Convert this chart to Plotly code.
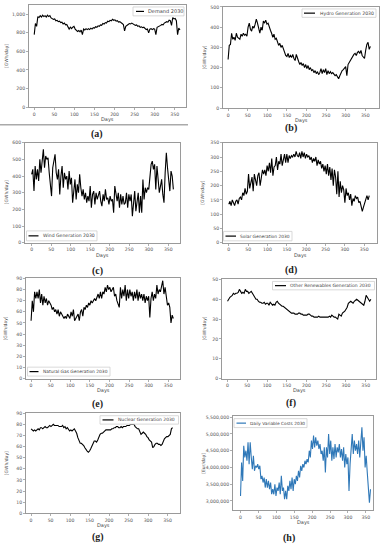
import plotly.graph_objects as go

DAYS = list(range(0, 365, 3))

DEMAND = [780, 900, 870, 975, 965, 985, 970, 990, 975, 985,
          970, 990, 975, 985, 960, 955, 945, 950, 930, 935,
          920, 925, 910, 915, 895, 905, 885, 890, 860, 840,
          860, 845, 860, 870, 840, 830, 815, 825, 810, 830,
          780, 840, 830, 845, 835, 845, 835, 850, 840, 855,
          850, 865, 860, 875, 870, 885, 880, 900, 895, 910,
          905, 925, 920, 935, 930, 945, 935, 940, 925, 930,
          915, 920, 905, 900, 890, 820, 870, 885, 890, 900,
          895, 905, 895, 890, 880, 885, 870, 875, 860, 865,
          855, 860, 845, 835, 840, 800, 840, 845, 835, 845,
          840, 780, 860, 865, 875, 880, 890, 885, 905, 910,
          920, 915, 935, 930, 880, 965, 950, 955, 930, 780,
          850, 830]

HYDRO = [240, 310, 315, 370, 340, 350, 335, 370, 350, 345,
         340, 365, 355, 370, 360, 365, 355, 400, 420, 390,
         380, 405, 395, 415, 440, 420, 395, 370, 400, 385,
         430, 420, 435, 415, 420, 395, 385, 370, 350, 365,
         340, 345, 330, 310, 320, 300, 310, 290, 275, 260,
         255, 270, 250, 260, 250, 265, 245, 235, 265, 240,
         230, 215, 225, 210, 220, 200, 215, 195, 210, 190,
         200, 185, 190, 175, 185, 170, 180, 165, 175, 195,
         170, 190, 175, 195, 165, 185, 170, 180, 170, 175,
         165, 160, 165, 150, 145, 160, 175, 185, 190, 200,
         205, 160, 215, 225, 235, 250, 255, 265, 270, 260,
         275, 280, 270, 285, 260, 250, 245, 285, 315, 325,
         290, 305]

WIND = [410, 440, 310, 460, 380, 440, 370, 500, 420, 510,
        560, 450, 520, 500, 510, 420, 360, 280, 450, 500,
        530, 420, 380, 440, 290, 400, 460, 330, 420, 380,
        400, 320, 430, 350, 390, 240, 310, 380, 260, 350,
        300, 410, 330, 280, 320, 260, 300, 240, 280, 250,
        340, 210, 290, 310, 230, 300, 260, 280, 310, 250,
        220, 290, 250, 320, 260, 270, 230, 280, 250, 260,
        180, 340, 280, 250, 300, 210, 290, 230, 280, 230,
        240, 300, 210, 290, 250, 290, 160, 270, 310, 190,
        250, 300, 180, 280, 180, 380, 260, 330, 300, 330,
        320, 410, 470, 490, 440, 470, 320, 460, 350, 300,
        340, 380, 290, 240, 420, 540, 450, 360, 310, 430,
        400, 320]

SOLAR = [135, 145, 130, 150, 140, 130, 145, 150, 135, 155,
         160, 150, 175, 165, 190, 170, 180, 240, 190, 210,
         230, 180, 240, 220, 200, 235, 245, 200, 225, 255,
         240, 255, 235, 270, 250, 280, 245, 295, 235, 265,
         270, 300, 255, 285, 275, 310, 270, 295, 310, 280,
         310, 280, 305, 295, 305, 300, 310, 300, 320, 305,
         300, 315, 295, 320, 300, 315, 295, 310, 300, 305,
         290, 300, 280, 295, 285, 300, 270, 290, 275, 285,
         260, 275, 250, 270, 240, 275, 235, 265, 220, 260,
         200, 255, 230, 170, 250, 160, 215, 175, 200, 185,
         140, 190, 165, 175, 150, 170, 130, 155, 145, 165,
         155, 160, 140, 145, 125, 110, 125, 140, 150, 165,
         150, 165]

GAS = [52, 70, 60, 78, 72, 78, 72, 80, 68, 76,
       66, 74, 68, 72, 66, 70, 68, 66, 62, 64,
       60, 62, 58, 62, 56, 60, 58, 56, 54, 56,
       54, 58, 56, 54, 60, 56, 62, 52, 54, 56,
       58, 52, 60, 62, 56, 64, 62, 66, 64, 68,
       66, 70, 68, 70, 72, 70, 74, 76, 72, 78,
       72, 78, 76, 82, 78, 84, 80, 82, 78, 80,
       82, 74, 76, 70, 66, 64, 82, 72, 80, 74,
       84, 70, 80, 72, 80, 74, 78, 70, 78, 72,
       80, 70, 78, 72, 76, 70, 76, 68, 74, 70,
       74, 55, 72, 78, 70, 76, 72, 84, 76, 80,
       78, 82, 88, 76, 82, 74, 66, 68, 64, 50,
       57, 54]

OTHER = [39, 40.5, 41, 41.5, 42, 43, 42.5, 43, 43, 43.5,
         45, 44, 43, 43.5, 43, 45, 44, 44, 43, 43.5,
         44, 43, 41.5, 41, 40, 40, 39, 38.5, 38.5, 38,
         38, 38.5, 37.5, 38, 38, 37, 38.5, 37.5, 37, 37.5,
         37, 38.5, 39, 38, 37.5, 37, 36.5, 36.5, 36, 35.5,
         35, 34.5, 34, 33.5, 33, 33, 33, 32.5, 32.5, 32.5,
         33, 33, 32.5, 32.5, 32, 32, 32, 32, 32.5, 32.5,
         32, 31.5, 31.5, 31, 31, 31, 31, 31.5, 31, 31,
         31, 31, 31, 31, 31, 31, 31.5, 31, 32, 31.5,
         31, 31, 30.5, 30, 32.5, 32, 31.5, 33, 33.5, 34,
         35, 36, 38, 38.5, 39, 38.5, 38, 39, 39.5, 40,
         39.5, 39, 38.5, 38, 37.5, 37, 39, 42, 41, 40,
         39, 40]

NUCLEAR = [76, 75, 74, 75, 74, 75, 76, 75, 77, 77,
           76, 77, 78, 77, 77, 78, 79, 78, 79, 80,
           79, 79, 79, 79, 78, 78, 78, 79, 77, 78,
           76, 77, 75, 74, 75, 74, 75, 76, 74, 72,
           68, 66, 63, 63, 62, 61, 59, 57, 56, 55,
           56, 58, 61, 64, 65, 65, 64, 66, 69, 71,
           72, 72, 73, 74, 75, 75, 75, 75, 75, 76,
           76, 77, 77, 78, 78, 77, 77, 78, 77, 78,
           78, 78, 79, 79, 79, 80, 80, 80, 80, 78,
           77, 76, 76, 73, 71, 72, 73, 72, 71, 69,
           68, 66, 65, 64, 59, 60, 62, 63, 63, 62,
           62, 61, 62, 65, 67, 68, 69, 69, 70, 71,
           76, 77]

COSTS_M = [3.15, 4.15, 3.6, 4.65, 4.3, 4.5, 4.2, 4.75, 4.1, 4.75,
           4.3, 3.95, 4.35, 3.9, 4.05, 4.0, 4.1, 3.95, 4.05, 3.65,
           3.75, 3.55, 3.7, 3.4, 3.65, 3.4, 3.6, 3.35, 3.55, 3.2,
           3.35, 3.2, 3.5, 3.15, 3.4, 3.3, 3.55, 3.2, 3.75, 3.3,
           3.4, 3.05, 3.3, 3.05, 3.45, 3.3, 3.6, 3.35, 3.7, 3.3,
           3.65, 3.5, 3.75, 3.6, 3.9, 3.7, 4.05, 3.9, 4.1, 4.0,
           4.2, 4.1, 4.25, 4.15, 4.5, 4.3, 4.8, 4.55, 4.95, 4.6,
           4.9, 4.65, 4.8, 4.55, 4.7, 4.4, 4.5, 4.2, 4.6, 3.85,
           4.6, 4.3, 5.0, 4.4, 4.8, 4.2, 4.6, 4.25, 4.7, 4.3,
           4.6, 4.45, 4.7, 4.3, 4.55, 4.2, 4.6, 4.0, 4.4, 4.1,
           4.3, 3.3, 4.1, 4.6, 5.0, 4.4, 4.8, 4.5, 4.7, 4.4,
           4.8, 4.3, 4.9, 5.2, 4.5, 4.9, 4.0, 4.35, 3.85, 3.3,
           2.95, 3.35]
COSTS = [v * 1e6 for v in COSTS_M]

X_TICKS = [0, 50, 100, 150, 200, 250, 300, 350]

SERIES = [
    ("Demand 2030", DEMAND, "[GWh/day]", [0, 200, 400, 600, 800, 1000], "(a)"),
    ("Hydro Generation 2030", HYDRO, "[GWh/day]", [0, 100, 200, 300, 400, 500], "(b)"),
    ("Wind Generation 2030", WIND, "[GWh/day]", [0, 100, 200, 300, 400, 500, 600], "(c)"),
    ("Solar Generation 2030", SOLAR, "[GWh/day]", [0, 50, 100, 150, 200, 250, 300, 350], "(d)"),
    ("Natural Gas Generation 2030", GAS, "[GWh/day]", [0, 10, 20, 30, 40, 50, 60, 70, 80, 90], "(e)"),
    ("Other Renewables Generation 2030", OTHER, "[GWh/day]", [0, 10, 20, 30, 40, 50], "(f)"),
    ("Nuclear Generation 2030", NUCLEAR, "[GWh/day]", [0, 10, 20, 30, 40, 50, 60, 70, 80, 90], "(g)"),
    ("Daily Variable Costs 2030", COSTS, "[Eur/day]",
     [3000000, 3500000, 4000000, 4500000, 5000000, 5500000], "(h)"),
]

# ---------------- layout (pixel geometry) ----------------
W, H = 383, 550
# frame: left, right, top, bottom (px); x range; y range
FRAMES = [
    (29, 186, 3, 106, [-13, 378], [0, 1100]),
    (223, 379, 5, 107, [-13, 385], [0, 500]),
    (25, 180, 142, 243, [-17, 380], [0, 600]),
    (223, 377, 142, 243, [-15, 383], [0, 350]),
    (26, 180, 279, 380, [-13, 380], [0, 90]),
    (222, 376, 280, 380, [-14, 376], [0, 50]),
    (26, 180, 415, 516, [-13, 382], [0, 90]),
    (233, 373, 418, 513, [-21, 370], [2720000, 5530000]),
]
# legend: box x0, x1, y0, y1, line x0, x1, text x, font size
LEGENDS = [
    (133, 184, 5, 14, 136, 144, 146, 5.0),
    (302, 376, 7, 15.5, 304, 315, 317.5, 4.6),
    (26.5, 97, 231, 241, 28.5, 38.5, 40.5, 4.6),
    (223.5, 292, 231.5, 241, 225.5, 236, 238.3, 4.4),
    (27.5, 110, 368.5, 377.5, 29.5, 38.5, 40.7, 4.4),
    (272.5, 374.5, 282, 290.5, 275, 286, 287.7, 4.5),
    (100, 178.5, 417.5, 426, 102.5, 113.5, 115.7, 4.5),
    (234, 307, 420.5, 429.5, 236.5, 246, 248.3, 4.3),
]
LABEL_POS = [(97, 133), (291, 127), (97, 271), (291, 270),
             (97, 406), (291, 405), (98, 540), (289, 541)]
YTITLE_X = [6, 204, 6.5, 203, 6, 203.5, 6, 203.5]


def px(x):
    return x / W


def py(y):
    return 1 - y / H


FONT = "DejaVu Sans"
FRAME_COL = "#9a9a9a"
TICK_FONT = dict(family=FONT, size=4.6, color="#555555")

fig = go.Figure()
layout = dict(width=W, height=H, autosize=False,
              margin=dict(l=0, r=0, t=0, b=0),
              paper_bgcolor="white", plot_bgcolor="white",
              showlegend=False, font=dict(family=FONT))
shapes, annotations = [], []

for i, (name, vals, ytitle, yticks, lab) in enumerate(SERIES):
    l, r, t, b, xr, yr = FRAMES[i]
    n = i + 1
    xa = "x" if n == 1 else f"x{n}"
    ya = "y" if n == 1 else f"y{n}"
    color = "#2f78b8" if i == 7 else "black"
    fig.add_trace(go.Scatter(x=DAYS[:len(vals)], y=vals, mode="lines", name=name,
                             line=dict(color=color, width=1.1),
                             xaxis=xa, yaxis=ya, hoverinfo="skip"))
    common = dict(showline=True, mirror=True, linecolor=FRAME_COL, linewidth=1,
                  ticks="outside", ticklen=2, tickwidth=0.8, tickcolor=FRAME_COL,
                  tickfont=TICK_FONT, showgrid=False, zeroline=False, fixedrange=True)
    layout["xaxis" if n == 1 else f"xaxis{n}"] = dict(
        domain=[px(l), px(r)], range=xr, anchor=ya, tickmode="array",
        tickvals=X_TICKS, ticktext=[str(v) for v in X_TICKS], **common)
    layout["yaxis" if n == 1 else f"yaxis{n}"] = dict(
        domain=[py(b), py(t)], range=yr, anchor=xa, tickmode="array",
        tickvals=yticks, ticktext=[f"{v:,}" for v in yticks], **common)

    # axis titles
    annotations.append(dict(text="Days", x=px((l + r) / 2), y=py(b + 12.5),
                            xref="paper", yref="paper", showarrow=False,
                            font=dict(family=FONT, size=5, color="#444444"),
                            xanchor="center", yanchor="middle"))
    annotations.append(dict(text=ytitle, x=px(YTITLE_X[i]), y=py((t + b) / 2),
                            xref="paper", yref="paper", showarrow=False, textangle=-90,
                            font=dict(family=FONT, size=4.5, color="#444444"),
                            xanchor="center", yanchor="middle"))
    # panel label
    lx, ly = LABEL_POS[i]
    annotations.append(dict(text=f"<b>{lab}</b>", x=px(lx), y=py(ly),
                            xref="paper", yref="paper", showarrow=False,
                            font=dict(family="Liberation Serif", size=10, color="#222222"),
                            xanchor="center", yanchor="middle"))
    # legend box
    bx0, bx1, by0, by1, lx0, lx1, tx, fs = LEGENDS[i]
    shapes.append(dict(type="rect", xref="paper", yref="paper",
                       x0=px(bx0), x1=px(bx1), y0=py(by1), y1=py(by0),
                       line=dict(color="#cfcfcf", width=0.8), fillcolor="white", layer="above"))
    ym = (by0 + by1) / 2
    shapes.append(dict(type="line", xref="paper", yref="paper",
                       x0=px(lx0), x1=px(lx1), y0=py(ym), y1=py(ym),
                       line=dict(color=color, width=1.2), layer="above"))
    annotations.append(dict(text=name, x=px(tx), y=py(ym), xref="paper", yref="paper",
                            showarrow=False, xanchor="left", yanchor="middle",
                            font=dict(family=FONT, size=fs, color="#444444")))

# separator rule under panel (a)
shapes.append(dict(type="line", xref="paper", yref="paper",
                   x0=0, x1=px(188), y0=py(124), y1=py(124),
                   line=dict(color="#aaaaaa", width=1.5)))

layout["shapes"] = shapes
layout["annotations"] = annotations
fig.update_layout(**layout)
fig.write_html("out.html",
               config={"displayModeBar": False, "staticPlot": True},
               post_script="document.body.style.margin='0';"
                           "document.body.style.padding='0';"
                           "document.body.style.overflow='hidden';")
